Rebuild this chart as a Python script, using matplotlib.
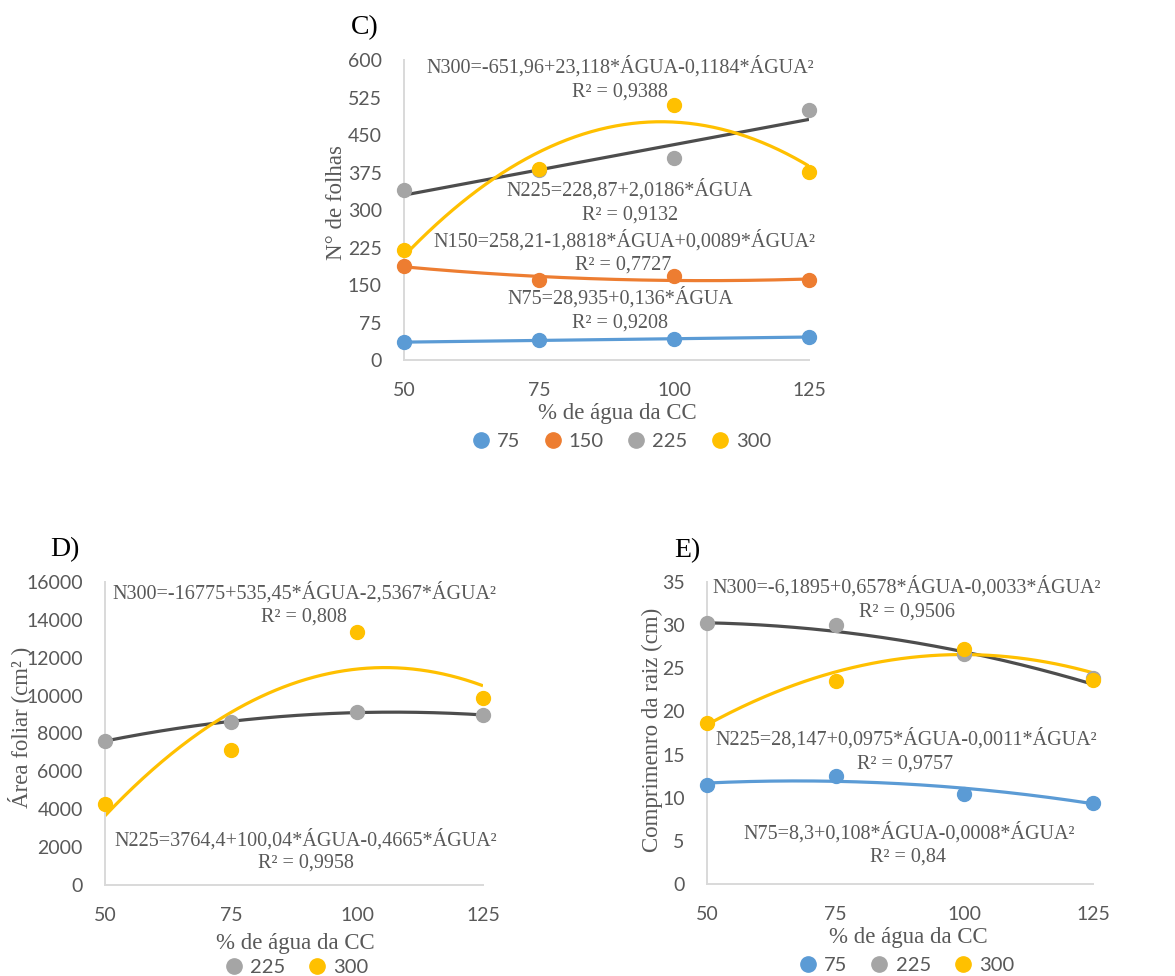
import numpy as np
import matplotlib
matplotlib.use("Agg")
import matplotlib.pyplot as plt
from matplotlib.lines import Line2D

W, H = 1175, 976

# ---- data ----
agua = [50, 75, 100, 125]

# C) numero de folhas
folhas_75 = [37, 40, 42, 47]
folhas_150 = [189, 161, 168, 161]
folhas_225 = [341, 381, 405, 501]
folhas_300 = [220, 383, 511, 377]

# D) area foliar
area_225 = [7630, 8600, 9160, 8990]
area_300 = [4280, 7140, 13360, 9870]

# E) comprimento da raiz
raiz_75 = [11.5, 12.5, 10.4, 9.4]
raiz_225 = [30.2, 30.05, 26.6, 23.9]
raiz_300 = [18.65, 23.5, 27.2, 23.6]

# trendline coefficients as printed (c0, c1, c2)
coef_c75 = [28.935, 0.136, 0]
coef_c150 = [258.21, -1.8818, 0.0089]
coef_c225 = [228.87, 2.0186, 0]
coef_c300 = [-651.96, 23.118, -0.1184]
coef_d225 = [3764.4, 100.04, -0.4665]
coef_d300 = [-16775, 535.45, -2.5367]
coef_e75 = [8.3, 0.108, -0.0008]
coef_e225 = [28.147, 0.0975, -0.0011]
coef_e300 = [-6.1895, 0.6578, -0.0033]

BLUE = "#5B9BD5"
ORANGE = "#ED7D31"
GRAY = "#A5A5A5"
DARK = "#4D4D4D"
YELLOW = "#FFC000"
TXT = "#595959"
SPINE = "#D9D9D9"

SERIF = "Liberation Serif"
SANS = "Lato"

fig = plt.figure(figsize=(W / 100, H / 100), dpi=100)


def box(x0, y0, x1, y1):
    return [x0 / W, 1 - y1 / H, (x1 - x0) / W, (y1 - y0) / H]


def ftext(x, y, s, **kw):
    kw.setdefault("family", SERIF)
    kw.setdefault("color", TXT)
    kw.setdefault("fontsize", 14.5)
    fig.text(x / W, 1 - y / H, s, ha=kw.pop("ha", "center"), va=kw.pop("va", "center"), **kw)


def setup(ax, ylim, yticks):
    ax.set_xlim(50, 125)
    ax.set_ylim(*ylim)
    ax.set_xticks(agua)
    ax.set_yticks(yticks)
    for s in ["top", "right"]:
        ax.spines[s].set_visible(False)
    for s in ["left", "bottom"]:
        ax.spines[s].set_color(SPINE)
        ax.spines[s].set_linewidth(1.4)
    ax.tick_params(length=0, labelsize=14, labelcolor=TXT, pad=16)
    for lab in ax.get_xticklabels() + ax.get_yticklabels():
        lab.set_family(SANS)
    ax.patch.set_alpha(0)


def trend(ax, coef, color):
    xs = np.linspace(50, 125, 200)
    ys = coef[0] + coef[1] * xs + coef[2] * xs ** 2
    ax.plot(xs, ys, color=color, lw=2.3, zorder=2, solid_capstyle="butt")


def pts(ax, ys, color, z=3):
    ax.plot(agua, ys, "o", color=color, ms=10, zorder=z, clip_on=False)


def legend(x, y, items):
    handles = [Line2D([], [], ls="", marker="o", ms=11, color=c) for _, c in items]
    fig.legend(handles, [l for l, _ in items], loc="center", bbox_to_anchor=(x / W, 1 - y / H),
               ncol=len(items), frameon=False, handletextpad=-0.2, columnspacing=0.6,
               prop={"family": SANS, "size": 14.5}, labelcolor=TXT, borderaxespad=0)


# ---------- C ----------
axc = fig.add_axes(box(404, 60, 809, 360))
setup(axc, (0, 600), range(0, 601, 75))
trend(axc, coef_c75, BLUE)
trend(axc, coef_c150, ORANGE)
trend(axc, coef_c225, DARK)
trend(axc, coef_c300, YELLOW)
pts(axc, folhas_75, BLUE)
pts(axc, folhas_150, ORANGE)
pts(axc, folhas_225, GRAY)
pts(axc, folhas_300, YELLOW)
ftext(365, 28, "C)", color="black", fontsize=20)
ftext(336, 202, "N° de folhas", rotation=90, fontsize=16.5)
ftext(617, 413, "% de água da CC", fontsize=16.5)
ftext(620, 67, "N300=-651,96+23,118*ÁGUA-0,1184*ÁGUA²")
ftext(620, 92, "R² = 0,9388")
ftext(630, 190, "N225=228,87+2,0186*ÁGUA")
ftext(630, 215, "R² = 0,9132")
ftext(624, 241, "N150=258,21-1,8818*ÁGUA+0,0089*ÁGUA²")
ftext(623, 265, "R² = 0,7727")
ftext(620, 298, "N75=28,935+0,136*ÁGUA")
ftext(620, 323, "R² = 0,9208")
legend(616, 441, [("75", BLUE), ("150", ORANGE), ("225", GRAY), ("300", YELLOW)])

# ---------- D ----------
axd = fig.add_axes(box(105, 582, 483, 885))
setup(axd, (0, 16000), range(0, 16001, 2000))
trend(axd, coef_d225, DARK)
trend(axd, coef_d300, YELLOW)
pts(axd, area_225, GRAY)
pts(axd, area_300, YELLOW)
ftext(65, 550, "D)", color="black", fontsize=20)
ftext(20, 727, "Área foliar (cm² )", rotation=90, fontsize=16.5)
ftext(295, 943, "% de água da CC", fontsize=16.5)
ftext(304, 593, "N300=-16775+535,45*ÁGUA-2,5367*ÁGUA²")
ftext(304, 617, "R² = 0,808")
ftext(306, 840, "N225=3764,4+100,04*ÁGUA-0,4665*ÁGUA²")
ftext(306, 863, "R² = 0,9958")
legend(291, 967, [("225", GRAY), ("300", YELLOW)])

# ---------- E ----------
axe = fig.add_axes(box(707, 582, 1093, 884))
setup(axe, (0, 35), range(0, 36, 5))
trend(axe, coef_e75, BLUE)
trend(axe, coef_e225, DARK)
trend(axe, coef_e300, YELLOW)
pts(axe, raiz_75, BLUE)
pts(axe, raiz_225, GRAY)
pts(axe, raiz_300, YELLOW)
ftext(687, 551, "E)", color="black", fontsize=20)
ftext(652, 730, "Comprimenro da raiz (cm)", rotation=90, fontsize=16.5)
ftext(908, 938, "% de água da CC", fontsize=16.5)
ftext(907, 587, "N300=-6,1895+0,6578*ÁGUA-0,0033*ÁGUA²")
ftext(907, 612, "R² = 0,9506")
ftext(906, 739, "N225=28,147+0,0975*ÁGUA-0,0011*ÁGUA²")
ftext(905, 764, "R² = 0,9757")
ftext(909, 833, "N75=8,3+0,108*ÁGUA-0,0008*ÁGUA²")
ftext(908, 857, "R² = 0,84")
legend(901, 965, [("75", BLUE), ("225", GRAY), ("300", YELLOW)])

fig.savefig("out.png", dpi=100)
